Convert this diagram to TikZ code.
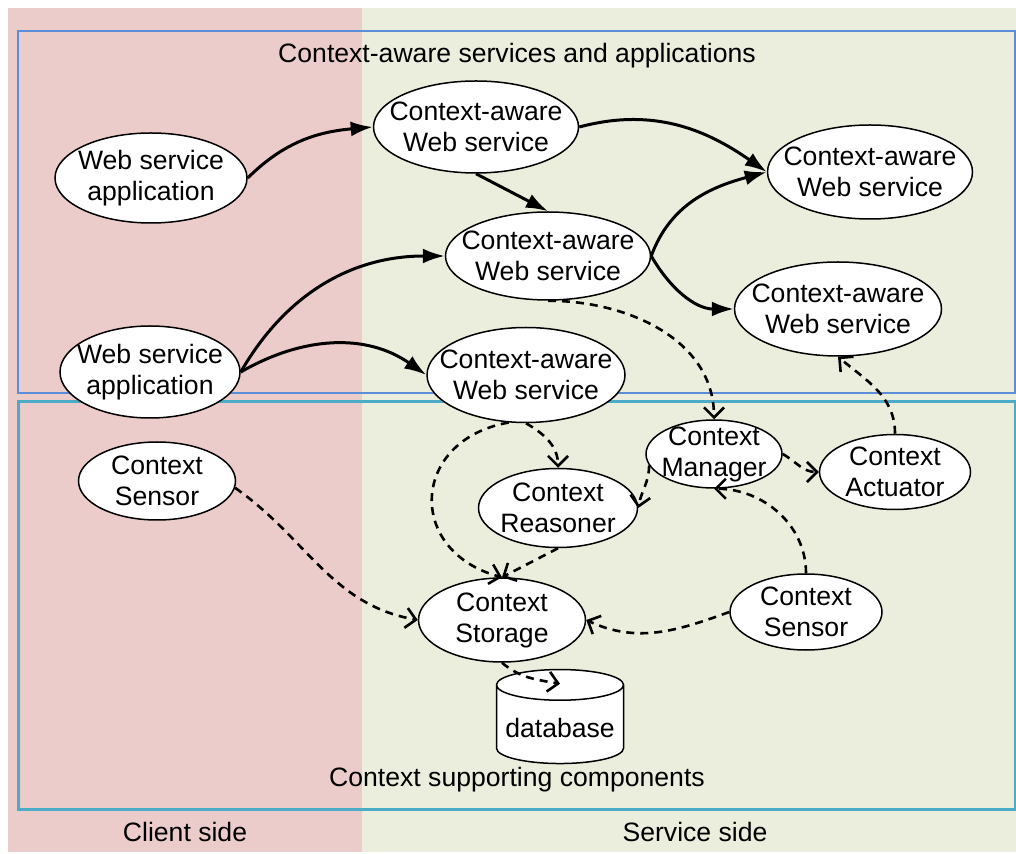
\documentclass[tikz,border=0pt]{standalone}
\usepackage{fontspec}
\setmainfont{Liberation Sans}
\usetikzlibrary{shapes.geometric,arrows.meta}

\definecolor{clientbg}{RGB}{235,204,203}
\definecolor{servicebg}{RGB}{235,238,221}
\definecolor{appframe}{RGB}{90,142,216}
\definecolor{compframe}{RGB}{74,172,198}

\tikzset{
  comp/.style={ellipse, draw, fill=white, line width=0.75pt, inner sep=-15pt, align=center},
  call/.style={line width=1.5pt, -{Latex[length=11pt,width=7.5pt]}},
  ctx/.style={line width=1.3pt, dash pattern=on 4pt off 3pt, -{Straight Barb[length=5pt,width=10pt]}}
}

\begin{document}
\begin{tikzpicture}[x=0.5pt,y=0.5pt,font=\fontsize{13.3}{15.5}\selectfont]
  \useasboundingbox (0,0) rectangle (1016,-854);
  % Draw client and service sides
  \fill[clientbg] (8,-8) rectangle (362,-852);
  \fill[servicebg] (362,-8) rectangle (1016,-852);
  \draw[appframe, line width=1pt] (18,-31) rectangle (1015,-393);
  \draw[compframe, line width=1.5pt] (18,-402) rectangle (1015,-809);
  \node (apptitle) at (517,-56) {Context-aware services and applications};
  \node (comptitle) at (517,-780) {Context supporting components};
  \node (client) at (185,-832) {Client side};
  \node (service) at (695,-832) {Service side};

  % Services and applications
  \node[comp, minimum width=96pt, minimum height=45pt] (app1) at (151,-178) {Web service\\application};
  \node[comp, minimum width=90pt, minimum height=46pt] (app2) at (150,-372) {Web service\\application};
  \node[comp, minimum width=102.5pt, minimum height=46pt] (ws1) at (476,-127) {Context-aware\\Web service};
  \node[comp, minimum width=102.5pt, minimum height=44pt] (ws2) at (548,-256) {Context-aware\\Web service};
  \node[comp, minimum width=102.5pt, minimum height=47pt] (ws3) at (870,-172) {Context-aware\\Web service};
  \node[comp, minimum width=103.5pt, minimum height=47pt] (ws4) at (838,-309) {Context-aware\\Web service};
  \node[comp, minimum width=99pt, minimum height=47.5pt] (ws5) at (526,-375) {Context-aware\\Web service};

  % Supporting components
  \node[comp, minimum width=78.5pt, minimum height=39pt] (sens1) at (157,-481) {Context\\Sensor};
  \node[comp, minimum width=79.5pt, minimum height=39.5pt] (reas) at (558,-508) {Context\\Reasoner};
  \node[comp, minimum width=68pt, minimum height=34pt] (mgr) at (714,-454) {Context\\Manager};
  \node[comp, minimum width=75.5pt, minimum height=37.5pt] (act) at (895,-472) {Context\\Actuator};
  \node[comp, minimum width=76pt, minimum height=38pt] (sens2) at (806,-612) {Context\\Sensor};
  \node[comp, minimum width=83.5pt, minimum height=42pt] (stor) at (502,-620) {Context\\Storage};
  \node[cylinder, shape border rotate=90, aspect=0.25, draw, fill=white, line width=0.75pt,
        minimum width=63.5pt, minimum height=47pt] (db) at (560,-728) {database};
  \coordinate (dbcap) at ([yshift=-7.5pt]db.north);

  % Draw calls
  \draw[call] (app1.east) to[out=45,in=185] (ws1.west);
  \draw[call] (ws1.east) to[out=15,in=145] (ws3.west);
  \draw[call] (ws1.south) -- (ws2.north);
  \draw[call] (ws2.east) to[out=70,in=195] (ws3.west);
  \draw[call] (ws2.east) to[out=-60,in=180] (ws4.west);
  \draw[call] (app2.east) to[out=60,in=180] (ws2.west);
  \draw[call] (app2.east) to[out=30,in=145] (ws5.west);

  % Draw context flows
  \draw[ctx] (ws2.south) to[out=0,in=90] (mgr.north);
  \draw[ctx] (ws5.south) to[out=-30,in=90] (reas.north);
  \draw[ctx] (ws5.250) to[out=190,in=165,looseness=1.65] (stor.north);
  \draw[ctx] (reas.south) -- (stor.north);
  \draw[ctx] (mgr.190) to[out=-90,in=80] (reas.east);
  \draw[ctx] (mgr.east) to[out=-30,in=180] (act.west);
  \draw[ctx] (act.north) to[out=90,in=-40] (ws4.south);
  \draw[ctx] (sens2.north) to[out=90,in=0] (mgr.south);
  \draw[ctx] (sens2.west) to[out=200,in=-25] (stor.east);
  \draw[ctx] (sens1.-5) to[out=-35,in=170] (stor.west);
  \draw[ctx] (stor.south) to[out=-40,in=170] (dbcap);
\end{tikzpicture}
\end{document}
